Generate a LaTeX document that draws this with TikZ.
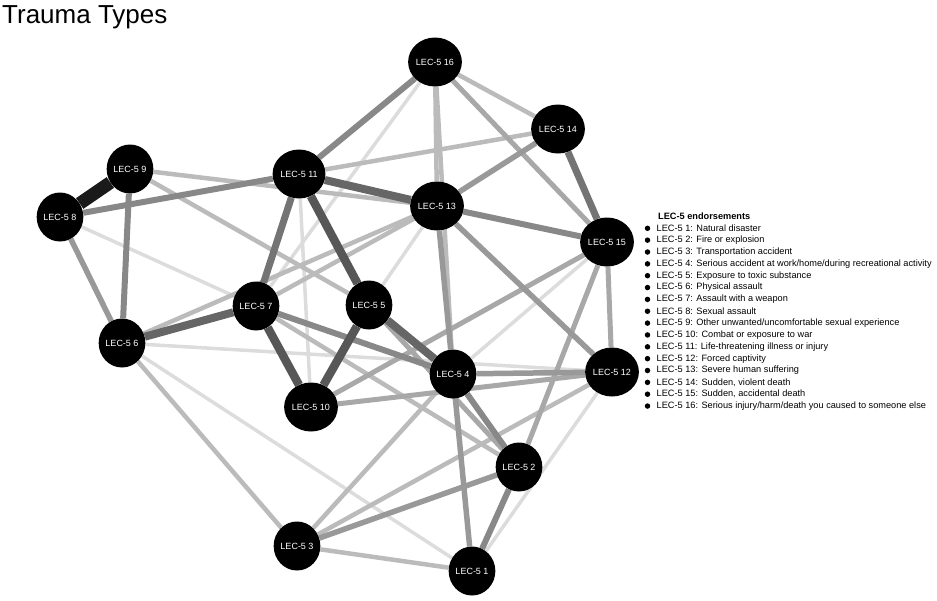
\documentclass[tikz,border=0pt]{standalone}
\usepackage{fontspec}
\setmainfont{Liberation Sans}
\usetikzlibrary{shapes.geometric,backgrounds}
\definecolor{cA}{HTML}{1A1A1A}
\definecolor{cB}{HTML}{575757}
\definecolor{cC}{HTML}{666666}
\definecolor{cD}{HTML}{747474}
\definecolor{cE}{HTML}{888888}
\definecolor{cF}{HTML}{999999}
\definecolor{cG}{HTML}{A8A8A8}
\definecolor{cH}{HTML}{BBBBBB}
\definecolor{cI}{HTML}{DCDCDC}
\begin{document}
\begin{tikzpicture}[x=1pt,y=-1pt,
  lec/.style={ellipse, fill=black, minimum width=46pt, minimum height=49pt, inner sep=0pt,
    text=white, font=\fontsize{9}{10}\selectfont},
  eA/.style={draw=cA, line width=13pt},
  eB/.style={draw=cB, line width=8.5pt},
  eC/.style={draw=cC, line width=8pt},
  eD/.style={draw=cD, line width=7pt},
  eE/.style={draw=cE, line width=6pt},
  eF/.style={draw=cF, line width=5.5pt},
  eG/.style={draw=cG, line width=5pt},
  eH/.style={draw=cH, line width=4.5pt},
  eI/.style={draw=cI, line width=3.5pt},
  legtxt/.style={anchor=west, inner sep=0pt, font=\fontsize{9.2}{10}\selectfont},
  bullet/.style={circle, fill=black, minimum size=5.5pt, inner sep=0pt}]
\useasboundingbox (0,0) rectangle (937,600);

\node[anchor=base west, inner sep=0pt, font=\fontsize{26}{29}\selectfont] (title) at (2,23) {Trauma Types};

% nodes
\node[lec] (n16) at (435,62) {LEC-5 16};
\node[lec] (n14) at (558,129) {LEC-5 14};
\node[lec] (n13) at (437,206) {LEC-5 13};
\node[lec] (n15) at (607,242) {LEC-5 15};
\node[lec] (n11) at (299,174) {LEC-5 11};
\node[lec] (n9) at (130,169) {LEC-5 9};
\node[lec] (n8) at (60,217) {LEC-5 8};
\node[lec] (n7) at (256,306) {LEC-5 7};
\node[lec] (n5) at (369,305) {LEC-5 5};
\node[lec] (n6) at (122,343) {LEC-5 6};
\node[lec] (n4) at (453,374) {LEC-5 4};
\node[lec] (n10) at (311,407) {LEC-5 10};
\node[lec] (n12) at (612,372) {LEC-5 12};
\node[lec] (n2) at (519,467) {LEC-5 2};
\node[lec] (n3) at (297,546) {LEC-5 3};
\node[lec] (n1) at (472,571) {LEC-5 1};

\begin{scope}[on background layer]
% very light
\path[eI] (n8) -- (n7);
\path[eI] (n6) -- (n12);
\path[eI] (n6) -- (n1);
\path[eI] (n11) -- (n10);
\path[eI] (n16) -- (n7);
\path[eI] (n5) -- (n13);
\path[eI] (n15) -- (n4);
\path[eI] (n12) -- (n1);
% light
\path[eH] (n11) -- (n14);
\path[eH] (n16) -- (n13);
\path[eH] (n16) -- (n4);
\path[eH] (n16) -- (n14);
\path[eH] (n6) -- (n13);
\path[eH] (n7) -- (n13);
\path[eH] (n9) -- (n13);
\path[eH] (n9) -- (n5);
\path[eH] (n6) -- (n3);
\path[eH] (n4) -- (n3);
\path[eH] (n3) -- (n12);
\path[eH] (n3) -- (n1);
\path[eH] (n7) -- (n2);
% light-medium
\path[eG] (n15) -- (n12);
\path[eG] (n15) -- (n2);
\path[eG] (n16) -- (n15);
\path[eG] (n10) -- (n12);
\path[eG] (n10) -- (n15);
\path[eG] (n5) -- (n2);
% medium
\path[eF] (n8) -- (n6);
\path[eF] (n14) -- (n13);
\path[eF] (n13) -- (n4);
\path[eF] (n13) -- (n12);
\path[eF] (n4) -- (n1);
\path[eF] (n2) -- (n3);
\path[eF] (n4) -- (n12);
\path[eE] (n8) -- (n11);
\path[eE] (n9) -- (n6);
\path[eE] (n11) -- (n16);
\path[eE] (n7) -- (n4);
\path[eE] (n4) -- (n2);
\path[eE] (n2) -- (n1);
\path[eE] (n13) -- (n15);
% dark
\path[eD] (n7) -- (n11);
\path[eD] (n14) -- (n15);
\path[eC] (n6) -- (n7);
\path[eC] (n11) -- (n13);
\path[eC] (n5) -- (n4);
\path[eB] (n11) -- (n5);
\path[eB] (n7) -- (n10);
\path[eB] (n5) -- (n10);
\path[eA] (n8) -- (n9);
\end{scope}

% legend
\node[legtxt, font=\bfseries\fontsize{9.2}{10}\selectfont] (leghead) at (658,216) {LEC-5 endorsements};
\foreach \i/\t in {1/{LEC-5 1: Natural disaster},
  2/{LEC-5 2: Fire or explosion},
  3/{LEC-5 3: Transportation accident},
  4/{LEC-5 4: Serious accident at work/home/during recreational activity},
  5/{LEC-5 5: Exposure to toxic substance},
  6/{LEC-5 6: Physical assault},
  7/{LEC-5 7: Assault with a weapon},
  8/{LEC-5 8: Sexual assault},
  9/{LEC-5 9: Other unwanted/uncomfortable sexual experience},
  10/{LEC-5 10: Combat or exposure to war},
  11/{LEC-5 11: Life-threatening illness or injury},
  12/{LEC-5 12: Forced captivity},
  13/{LEC-5 13: Severe human suffering},
  14/{LEC-5 14: Sudden, violent death},
  15/{LEC-5 15: Sudden, accidental death},
  16/{LEC-5 16: Serious injury/harm/death you caused to someone else}}{
  \node[bullet] (bul\i) at (647.5, {228.3+11.85*(\i-1)}) {};
  \node[legtxt] (leg\i) at (656.5, {228.3+11.85*(\i-1)}) {\t};
}
\end{tikzpicture}
\end{document}
